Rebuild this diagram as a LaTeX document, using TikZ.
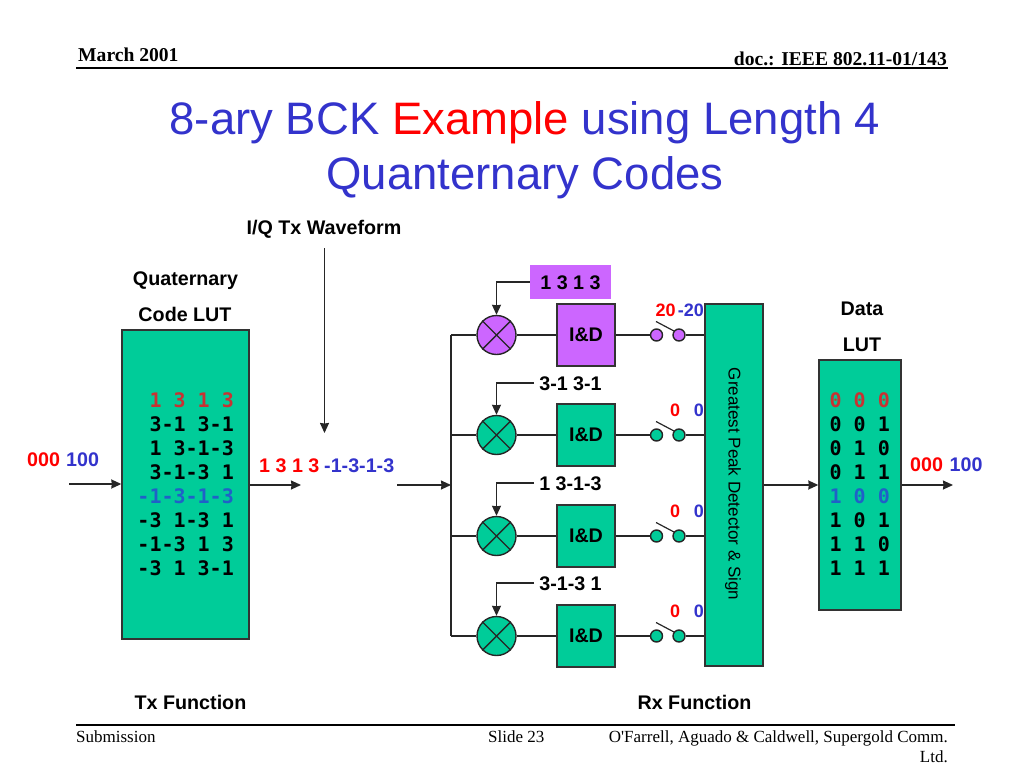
\documentclass[tikz,border=0pt]{standalone}
\usepackage{fontspec}
\setmainfont{Liberation Sans}
\setmonofont{DejaVu Sans Mono}
\newfontfamily\slidefont{Liberation Serif}
\usetikzlibrary{arrows.meta}
\definecolor{boxgreen}{HTML}{00CC99}
\definecolor{boxpurple}{HTML}{CC66FF}
\definecolor{inkblue}{HTML}{3333CC}
\definecolor{lutred}{HTML}{C83232}
\definecolor{lutblue}{HTML}{2060C8}
\tikzset{
  wire/.style={draw=black!85, line width=1.4pt},
  blockbox/.style={draw=black!80, line width=1.4pt, minimum width=58pt, minimum height=62pt, font=\fontsize{19.7}{22}\selectfont\bfseries},
  lutbox/.style={draw=black!80, line width=1.4pt, fill=boxgreen, inner sep=0pt},
  mixer/.style={circle, draw=black!85, line width=1.4pt, minimum size=39pt, inner sep=0pt},
  contact/.style={circle, draw=black!85, line width=1.4pt, minimum size=12pt, inner sep=0pt},
  boldlabel/.style={font=\fontsize{19.7}{22}\selectfont\bfseries, inner sep=0pt, anchor=base},
  coderow/.style={font=\fontsize{20}{22}\selectfont\ttfamily\bfseries, inner sep=0pt, anchor=base east},
  codeplain/.style={boldlabel, inner sep=5pt},
  codetag/.style={boldlabel, inner sep=0pt, fill=boxpurple, minimum width=81pt, text depth=10pt, text height=24pt},
  slidetext/.style={font=\fontsize{17}{19}\selectfont\slidefont, inner sep=0pt, anchor=base},
  headtext/.style={font=\fontsize{19.6}{21}\selectfont\slidefont\bfseries, inner sep=0pt},
  titletext/.style={anchor=base, inner sep=0pt, text=inkblue, font=\fontsize{45.5}{48}\selectfont},
}
\begin{document}
\begin{tikzpicture}[x=1pt, y=-1pt, >={Stealth[length=10pt,width=9pt,inset=0.5pt]}]
  \useasboundingbox (0,0) rectangle (1024,768);

  % Header and footer
  \node[headtext, anchor=base west] (datehead) at (78,61) {March 2001};
  \node[headtext, anchor=base east] (dochead) at (947,65) {doc.: IEEE 802.11-01/143};
  \coordinate (headl) at (76,68);
  \coordinate (headr) at (948,68);
  \draw[line width=1.1pt] (headl) -- (headr);
  \coordinate (footl) at (76,725);
  \coordinate (footr) at (955,725);
  \draw[line width=1.1pt] (footl) -- (footr);
  \node[slidetext, anchor=base west] (submit) at (76,742) {Submission};
  \node[slidetext, anchor=base west] (slide) at (488,742) {Slide 23};
  \node[slidetext, anchor=base east] (names) at (948,742) {O'Farrell, Aguado \& Caldwell, Supergold Comm.};
  \node[slidetext, anchor=base east] (ltd) at (948,762) {Ltd.};

  % Title
  \node[titletext] (title1) at (525,134) {8-ary BCK \textcolor{red}{Example} using Length 4};
  \node[titletext] (title2) at (525,189) {Quanternary Codes};

  % Tx side
  \node[boldlabel] (iqlabel) at (324,234) {I/Q Tx Waveform};
  \node[boldlabel] (quat) at (185.5,285) {Quaternary};
  \node[boldlabel] (codelabel) at (185,321) {Code LUT};
  \node[lutbox, minimum width=127pt, minimum height=309pt] (codelut) at (185.5,484.5) {};
  \foreach \row/\rowy/\rowc/\rowt in {1/407/lutred/1 3 1 3, 2/431/black/3-1 3-1, 3/455/black/1 3-1-3, 4/479/black/3-1-3 1,
      5/503/lutblue/-1-3-1-3, 6/527/black/-3 1-3 1, 7/551/black/-1-3 1 3, 8/575/black/-3 1 3-1}
    \node[coderow, text=\rowc] (code\row) at (234,\rowy) {\rowt};
  \node[boldlabel, text=red, anchor=base west] (inred) at (27,466) {000};
  \node[boldlabel, text=inkblue, anchor=base west] (inblue) at (66,466) {100};
  \node[boldlabel, text=red, anchor=base west] (txred) at (259,472) {1 3 1 3};
  \node[boldlabel, text=inkblue, anchor=base west] (txblue) at (324,472) {-1-3-1-3};
  \node[boldlabel] (txfunc) at (190.5,709) {Tx Function};
  \coordinate (inl) at (69,484);
  \coordinate (txr) at (301,485);
  \coordinate (iqtop) at (324.5,248);
  \coordinate (iqend) at (324.5,433);
  \draw[wire, ->] (inl) -- (codelut.west |- inl);
  \draw[wire, ->] (codelut.east |- txr) -- (txr);
  \draw[wire, ->] (iqtop) -- (iqend);

  % Rx side
  \node[lutbox, minimum width=58pt, minimum height=362pt] (detector) at (734,485) {};
  \node[rotate=270, inner sep=0pt, font=\fontsize{17}{19}\selectfont] (detlabel) at (733,484) {Greatest Peak Detector \& Sign};
  \coordinate (rxin) at (397,485);
  \coordinate (bustop) at (451,335);
  \coordinate (busbot) at (451,636);
  \coordinate (busin) at (451,485);
  \draw[wire] (bustop) -- (busbot);
  \draw[wire, ->] (rxin) -- (busin);
  \foreach \n/\y/\codey/\fillc/\codestyle/\codetext/\redx/\redv/\bluev in {
      1/335/289/boxpurple/codetag/1 3 1 3/665.5/20/-20,
      2/435/390/boxgreen/codeplain/3-1 3-1/675/0/0,
      3/536/490/boxgreen/codeplain/1 3-1-3/675/0/0,
      4/636/590/boxgreen/codeplain/3-1-3 1/675/0/0}{
    \coordinate (tap\n) at (451,\y);
    \node[mixer, fill=\fillc] (mix\n) at (496.5,\y) {};
    \draw[line width=1.4pt, black!85] (mix\n.north west) -- (mix\n.south east);
    \draw[line width=1.4pt, black!85] (mix\n.north east) -- (mix\n.south west);
    \node[blockbox, fill=\fillc] (intdump\n) at (586,\y) {I\&D};
    \node[contact, fill=\fillc] (swa\n) at (656.5,\y) {};
    \node[contact, fill=\fillc] (swb\n) at (679,\y) {};
    \coordinate (blade\n) at (656,\y-13.5);
    \coordinate (bladeend\n) at (674,\y-4);
    \node[\codestyle] (codein\n) at (570.5,\codey) {\codetext};
    \node[boldlabel, text=red, font=\fontsize{18}{20}\selectfont\bfseries] (red\n) at (\redx,\y-18.5) {\redv};
    \node[boldlabel, text=inkblue, anchor=base east, font=\fontsize{18}{20}\selectfont\bfseries] (blue\n) at (704,\y-18.5) {\bluev};
    \draw[wire] (tap\n) -- (mix\n);
    \draw[wire] (mix\n) -- (intdump\n);
    \draw[wire] (intdump\n) -- (swa\n);
    \draw[line width=1.2pt, black!85] (blade\n) -- (bladeend\n);
    \draw[wire] (swb\n) -- (swb\n -| detector.west);
    \draw[wire, ->] (codein\n.west |- 0,\codey-7) -| (mix\n.north);
  }
  \node[boldlabel] (rxfunc) at (694.5,709) {Rx Function};

  % Data LUT
  \node[boldlabel] (datalabel) at (862,315) {Data};
  \node[boldlabel] (lutlabel) at (862,351) {LUT};
  \node[lutbox, minimum width=82pt, minimum height=250pt] (datalut) at (860,485) {};
  \foreach \row/\rowy/\rowc/\rowt in {1/407/lutred/0 0 0, 2/431/black/0 0 1, 3/455/black/0 1 0, 4/479/black/0 1 1,
      5/503/lutblue/1 0 0, 6/527/black/1 0 1, 7/551/black/1 1 0, 8/575/black/1 1 1}
    \node[coderow, text=\rowc] (data\row) at (890,\rowy) {\rowt};
  \node[boldlabel, text=red, anchor=base west] (outred) at (910,471) {000};
  \node[boldlabel, text=inkblue, anchor=base west] (outblue) at (949.5,471) {100};
  \coordinate (outr) at (953,485);
  \draw[wire, ->] (detector.east) -- (datalut.west);
  \draw[wire, ->] (datalut.east) -- (outr);
\end{tikzpicture}
\end{document}
